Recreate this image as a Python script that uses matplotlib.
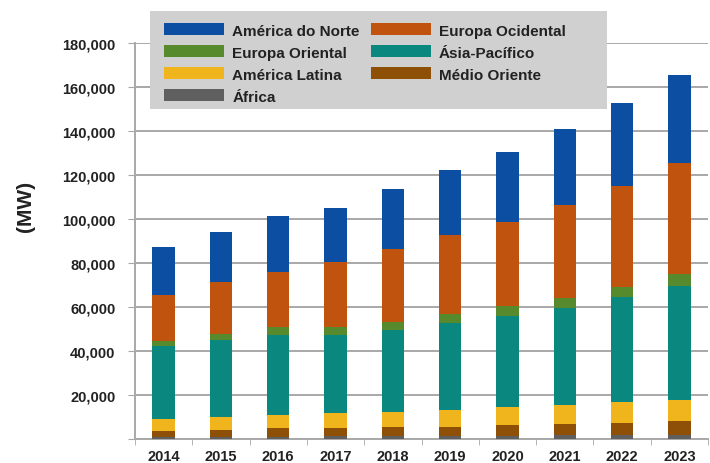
import matplotlib.pyplot as plt
from matplotlib.patches import Rectangle
from matplotlib.ticker import FuncFormatter, MultipleLocator
import numpy as np

years = ['2014', '2015', '2016', '2017', '2018', '2019', '2020', '2021', '2022', '2023']

# segment values (MW), bottom to top
africa = [1000, 1000, 1100, 1200, 1300, 1400, 1500, 1600, 1700, 1800]
medio_oriente = [2600, 3100, 3900, 3800, 4150, 4050, 4900, 5200, 5600, 6400]
america_latina = [5500, 5900, 5900, 6800, 6850, 7750, 8100, 8700, 9500, 9500]
asia_pacifico = [33200, 35000, 36400, 35500, 37200, 39500, 41400, 44000, 47700, 51800]
europa_oriental = [2200, 2700, 3600, 3600, 3700, 4100, 4600, 4600, 4600, 5500]
europa_ocidental = [20900, 23700, 25000, 29500, 33200, 35900, 38100, 42300, 45900, 50400]
america_norte = [21900, 22600, 25500, 24600, 27200, 29600, 31800, 34500, 37700, 40000]

series = [
    ('África', africa, '#5f5f5f'),
    ('Médio Oriente', medio_oriente, '#8e4f06'),
    ('América Latina', america_latina, '#f0b41c'),
    ('Ásia-Pacífico', asia_pacifico, '#0a877f'),
    ('Europa Oriental', europa_oriental, '#578a2c'),
    ('Europa Ocidental', europa_ocidental, '#c0530e'),
    ('América do Norte', america_norte, '#0b4ea2'),
]

fig = plt.figure(figsize=(7.10, 4.64), dpi=100)
ax = fig.add_axes([135 / 710, 24 / 464, 573 / 710, 396 / 464])

x = np.arange(len(years))
bottom = np.zeros(len(years))
handles = {}
for name, vals, color in series:
    b = ax.bar(x, vals, width=0.39, bottom=bottom, color=color, zorder=3, label=name)
    handles[name] = b
    bottom += np.array(vals)

ax.set_ylim(0, 180000)
ax.set_xlim(-0.48, 9.30)
ax.yaxis.set_major_locator(MultipleLocator(20000))
ax.yaxis.set_major_formatter(FuncFormatter(lambda v, p: '' if v == 0 else f'{int(v):,}'))
ax.grid(axis='y', color='#a8a8a8', linewidth=1.4, zorder=0)

ax.set_xticks(x)
ax.set_xticklabels(years)
ax.set_xticks(np.arange(len(years) + 1) - 0.5, minor=True)
ax.tick_params(axis='x', which='major', length=0, pad=7)
ax.tick_params(axis='x', which='minor', length=4, color='#a8a8a8')
ax.tick_params(axis='y', length=5, color='#a8a8a8', pad=9)

for lab in ax.get_xticklabels() + ax.get_yticklabels():
    lab.set_fontfamily('Liberation Sans')
    lab.set_fontweight('bold')
    lab.set_fontsize(10.5)
    lab.set_color('#222222')

for s in ['top', 'right']:
    ax.spines[s].set_visible(False)
for s in ['left', 'bottom']:
    ax.spines[s].set_color('#a8a8a8')
    ax.spines[s].set_linewidth(1.4)

fig.text(25 / 710, 1 - 206 / 464, '(MW)', rotation=90, ha='center', va='center',
         fontsize=15, fontweight='bold', fontfamily='Liberation Sans', color='#222222')

# legend box
fig.patches.append(Rectangle((150 / 710, 1 - 110 / 464), 457 / 710, 98 / 464,
                             transform=fig.transFigure, facecolor='#d0d0d0',
                             edgecolor='none', zorder=4))

order = ['América do Norte', 'Europa Oriental', 'América Latina', 'África',
         'Europa Ocidental', 'Ásia-Pacífico', 'Médio Oriente']
leg = fig.legend([handles[n] for n in order], order, ncol=2,
                 loc='upper left', bbox_to_anchor=(152 / 710, 1 - 12 / 464),
                 frameon=False, prop={'family': 'Liberation Sans', 'weight': 'bold', 'size': 11},
                 handlelength=3.9, handleheight=0.85, handletextpad=0.55,
                 columnspacing=0.75, labelspacing=0.5, borderpad=0.3)
leg.set_zorder(5)
for t in leg.get_texts():
    t.set_color('#222222')

fig.savefig('out.png', dpi=100)
